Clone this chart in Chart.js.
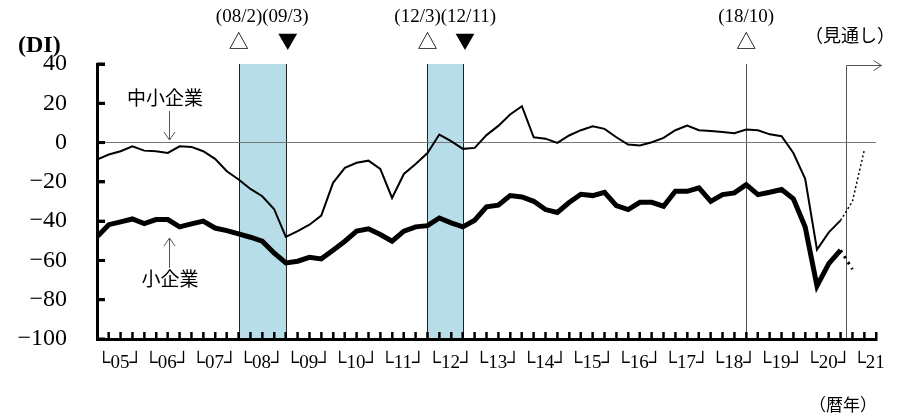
<!DOCTYPE html>
<html><head><meta charset="utf-8">
<script src="https://cdn.jsdelivr.net/npm/chart.js@4/dist/chart.umd.min.js"></script>
<style>html,body{margin:0;padding:0;background:#fff}#wrap{width:897px;height:417px}</style>
</head><body><div id="wrap"><canvas id="c" width="897" height="417"></canvas></div>
<script>
// ---- data ----
const years = ['05','06','07','08','09','10','11','12','13','14','15','16','17','18','19','20','21'];
const axisQuarters = 66; // 2005Q1 .. 2021Q3
// 中小企業 (quarterly, 2005Q1..2020Q4)
const smeValues = [-8.7,-6.1,-4.4,-1.9,-4.1,-4.4,-5.3,-1.9,-2.2,-4.4,-8.3,-14.6,-18.8,-23.6,-27.3,-33.8,
  -48.0,-45.1,-41.8,-37.2,-20.5,-12.9,-10.3,-9.2,-13.4,-28.2,-16.0,-10.9,-5.3,4.1,0.7,-3.2,
  -2.7,3.8,8.5,14.3,18.5,2.7,2.0,-0.2,3.6,6.3,8.3,7.0,2.7,-1.0,-1.5,0.2,
  2.4,6.3,8.7,6.3,5.9,5.4,4.8,6.6,6.3,4.2,3.2,-5.3,-18.5,-54.5,-45.7,-39.6];
// 小企業
const smallValues = [-48.0,-41.8,-40.4,-38.9,-41.2,-39.2,-39.2,-42.9,-41.4,-40.0,-43.5,-44.8,-46.5,-48.2,-50.2,-56.2,
  -61.3,-60.4,-58.4,-59.2,-54.8,-50.2,-45.1,-43.9,-46.8,-50.2,-45.1,-42.9,-42.3,-38.4,-40.9,-42.9,
  -39.5,-32.7,-31.9,-27.0,-27.7,-29.9,-34.1,-35.6,-30.5,-26.3,-27.0,-25.3,-32.1,-34.1,-30.4,-30.4,
  -32.4,-24.8,-24.8,-23.1,-29.9,-26.5,-25.6,-21.4,-26.5,-25.3,-23.9,-28.6,-43.0,-73.0,-61.6,-54.8];
// 見通し (from 2020Q4)
const smeForecast = [-39.6,-30.0,-4.0];
const smallForecast = [-54.8,-64.5];
const recessionStart = ['08/2','12/3'];
const recessionEnd = ['09/3','12/11'];
const peakMarks = ['18/10'];
const yTickValues = [40,20,0,-20,-40,-60,-80,-100];
const yMin = -100, yMax = 40, yStep = 20;

function monthToIndex(s){const [yy,mm]=s.split('/').map(Number);return (yy-5)*4+Math.floor((mm-1)/3);}
const lastActual = smeValues.length - 1;
const forecastBoundary = lastActual + 0.5;
const quarterTicks = [];
for (let q = 0; q <= axisQuarters; q++) quarterTicks.push(q);

const SERIF='"Liberation Serif","Times New Roman",serif';
const CJK='"Noto Sans CJK JP","Noto Sans",sans-serif';

const bgShade = {
  id:'bgShade',
  beforeDraw(chart){
    const {ctx, chartArea:a, scales:{x}} = chart;
    ctx.save();
    recessionStart.forEach((s,k)=>{
      const x0=Math.round(x.getPixelForValue(monthToIndex(s)))+0.5;
      const x1=Math.round(x.getPixelForValue(monthToIndex(recessionEnd[k])))+0.5;
      ctx.fillStyle='#b7dde8';
      ctx.fillRect(x0,a.top,x1-x0,a.bottom-a.top);
      ctx.strokeStyle='#222'; ctx.lineWidth=1;
      ctx.beginPath();ctx.moveTo(x0,a.top);ctx.lineTo(x0,a.bottom);ctx.moveTo(x1,a.top);ctx.lineTo(x1,a.bottom);ctx.stroke();
    });
    ctx.strokeStyle='#555'; ctx.lineWidth=1;
    peakMarks.forEach(s=>{
      const px=Math.round(x.getPixelForValue(monthToIndex(s)))+0.5;
      ctx.beginPath();ctx.moveTo(px,a.top);ctx.lineTo(px,a.bottom);ctx.stroke();
    });
    const fx=Math.round(x.getPixelForValue(forecastBoundary))+0.5;
    const ty=a.top+1.5;
    ctx.beginPath();ctx.moveTo(fx,a.bottom);ctx.lineTo(fx,ty);ctx.lineTo(fx+35,ty);
    ctx.moveTo(fx+27,ty-5);ctx.lineTo(fx+35,ty);ctx.lineTo(fx+27,ty+5);ctx.stroke();
    ctx.restore();
  }
};

const marks = {
  id:'marks',
  afterDraw(chart){
    const {ctx, scales:{x}} = chart;
    ctx.save();
    ctx.fillStyle='#000'; ctx.textAlign='center'; ctx.textBaseline='middle';
    recessionStart.forEach((s,k)=>{
      const x0=x.getPixelForValue(monthToIndex(s)), x1=x.getPixelForValue(monthToIndex(recessionEnd[k]));
      ctx.font='19px '+SERIF;
      ctx.fillText('('+s+')('+recessionEnd[k]+')',(x0+x1)/2,17);
      ctx.font='20px '+CJK;
      ctx.fillText('△',x0,41);
      ctx.fillText('▼',x1+2,41);
    });
    peakMarks.forEach(s=>{
      const px=x.getPixelForValue(monthToIndex(s));
      ctx.font='19px '+SERIF; ctx.fillText('('+s+')',px,17);
      ctx.font='20px '+CJK; ctx.fillText('△',px,41);
    });
    ctx.textAlign='left';
    ctx.font='18px '+CJK;
    ctx.fillText('（見通し）',805,35);
    ctx.font='17px '+CJK;
    ctx.fillText('（暦年）',809,405);
    ctx.font='bold 24px '+SERIF;
    ctx.fillText('(DI)',18,46);
    ctx.textAlign='center';
    ctx.font='19px '+CJK;
    ctx.fillText('中小企業',165,98);
    ctx.fillText('小企業',170,279);
    ctx.strokeStyle='#555'; ctx.lineWidth=1;
    ctx.beginPath();
    ctx.moveTo(169.5,111);ctx.lineTo(169.5,140);ctx.moveTo(164,132);ctx.lineTo(169.5,140);ctx.lineTo(175,132);
    ctx.moveTo(169.5,268);ctx.lineTo(169.5,238);ctx.moveTo(164,246);ctx.lineTo(169.5,238);ctx.lineTo(175,246);
    ctx.stroke();
    ctx.restore();
  }
};

new Chart(document.getElementById('c'),{
  type:'line',
  data:{datasets:[
    {label:'中小企業',data:smeValues.map((v,i)=>({x:i,y:v})),borderColor:'#000',borderWidth:2,pointRadius:0},
    {label:'小企業',data:smallValues.map((v,i)=>({x:i,y:v})),borderColor:'#000',borderWidth:5,pointRadius:0},
    {label:'中小企業 見通し',data:smeForecast.map((v,k)=>({x:lastActual+k,y:v})),borderColor:'#000',borderWidth:1.5,borderDash:[2,2.5],pointRadius:0},
    {label:'小企業 見通し',data:smallForecast.map((v,k)=>({x:lastActual+k,y:v})),borderColor:'#000',borderWidth:3,borderDash:[2.5,4.5],pointRadius:0},
    // inward axis tick marks, drawn as line-style points clipped at the axis
    {label:'xTicks',data:quarterTicks.map(q=>({x:q,y:yMin})),showLine:false,pointStyle:'line',rotation:90,
      pointRadius:7,pointHoverRadius:7,pointBorderWidth:2,pointBorderColor:'#000',pointBackgroundColor:'#000',
      clip:{left:3,right:3,top:3,bottom:0}},
    {label:'yTicks',data:yTickValues.map(v=>({x:0,y:v})),showLine:false,pointStyle:'line',rotation:0,
      pointRadius:8,pointHoverRadius:8,pointBorderWidth:3,pointBorderColor:'#000',pointBackgroundColor:'#000',
      clip:{left:0,right:3,top:3,bottom:3}}
  ]},
  options:{
    responsive:false, animation:false, devicePixelRatio:1, events:[],
    layout:{padding:{top:64,right:21,left:0,bottom:0}},
    plugins:{legend:{display:false},tooltip:{enabled:false}},
    scales:{
      x:{type:'linear',min:0,max:axisQuarters,
        afterFit(s){s.height=78;},
        border:{display:true,width:3,color:'#000'},
        grid:{drawOnChartArea:false,drawTicks:true,tickLength:-7,tickWidth:2,tickColor:'#000'},
        ticks:{stepSize:1,maxTicksLimit:200,autoSkip:false,maxRotation:0,align:'start',padding:20,color:'#000',
          font:{family:SERIF,size:19},
          callback:(v)=> (v%4===0 && v/4<years.length) ? ('└'+years[v/4]+(v/4<years.length-1?'┘':'')) : ''}
      },
      y:{min:yMin,max:yMax,
        afterFit(s){s.width=97;},
        border:{display:true,width:3,color:'#000'},
        grid:{drawOnChartArea:true,color:(c)=>c.tick && c.tick.value===0?'#777':'rgba(0,0,0,0)',lineWidth:1,drawTicks:true,tickLength:-8,tickWidth:3,tickColor:'#000'},
        ticks:{stepSize:yStep,padding:38,color:'#000',font:{family:SERIF,size:24},
          callback:(v)=>String(v).replace('-','−')}
      }
    }
  },
  plugins:[bgShade, marks]
});
</script></body></html>
